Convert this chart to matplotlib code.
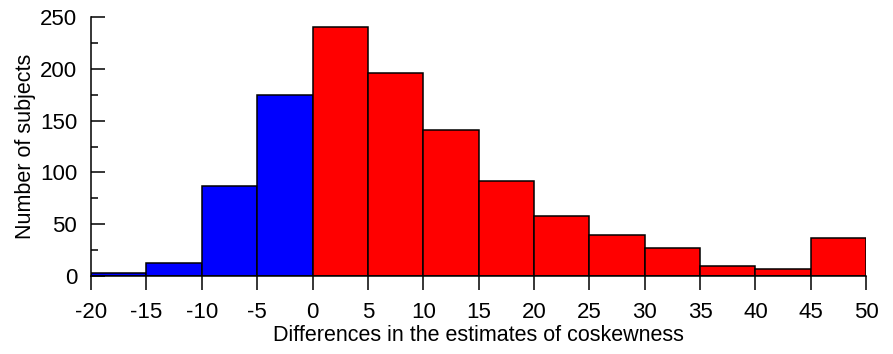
import matplotlib.pyplot as plt
from matplotlib.ticker import MultipleLocator

plt.rcParams['font.family'] = ['Liberation Sans', 'DejaVu Sans']
plt.rcParams['axes.unicode_minus'] = False

# bin left edges (width 5) and counts
bin_left = [-20, -15, -10, -5, 0, 5, 10, 15, 20, 25, 30, 35, 40, 45]
counts = [3, 12.5, 86.5, 175, 240, 196, 141, 92, 58, 40, 27.5, 9.5, 6.5, 36.5]
bin_width = 5

colors = ['blue' if x < 0 else 'red' for x in bin_left]

fig = plt.figure(figsize=(8.93, 3.54), dpi=100)
ax = fig.add_axes([0.102, 0.2203, 0.868, 0.7317])

ax.bar(bin_left, counts, width=bin_width, align='edge', color=colors,
       edgecolor='black', linewidth=1.1)

ax.set_xlim(-20, 50)
ax.set_ylim(0, 250)
ax.xaxis.set_major_locator(MultipleLocator(5))
ax.yaxis.set_major_locator(MultipleLocator(50))
ax.yaxis.set_minor_locator(MultipleLocator(25))

for s in ['top', 'right']:
    ax.spines[s].set_visible(False)
ax.spines['left'].set_linewidth(1.1)
ax.spines['bottom'].set_linewidth(1.1)

ax.tick_params(axis='x', direction='out', length=10, width=1.1, pad=9, labelsize=16)
ax.tick_params(axis='y', which='major', direction='in', length=10, width=1.1, pad=10, labelsize=16)
ax.tick_params(axis='y', which='minor', direction='in', length=5, width=1.1)

ax.set_xlabel('Differences in the estimates of coskewness', fontsize=15.5, labelpad=1)
ax.set_ylabel('Number of subjects', fontsize=15.5, labelpad=3)

fig.savefig('out.png', dpi=100)
